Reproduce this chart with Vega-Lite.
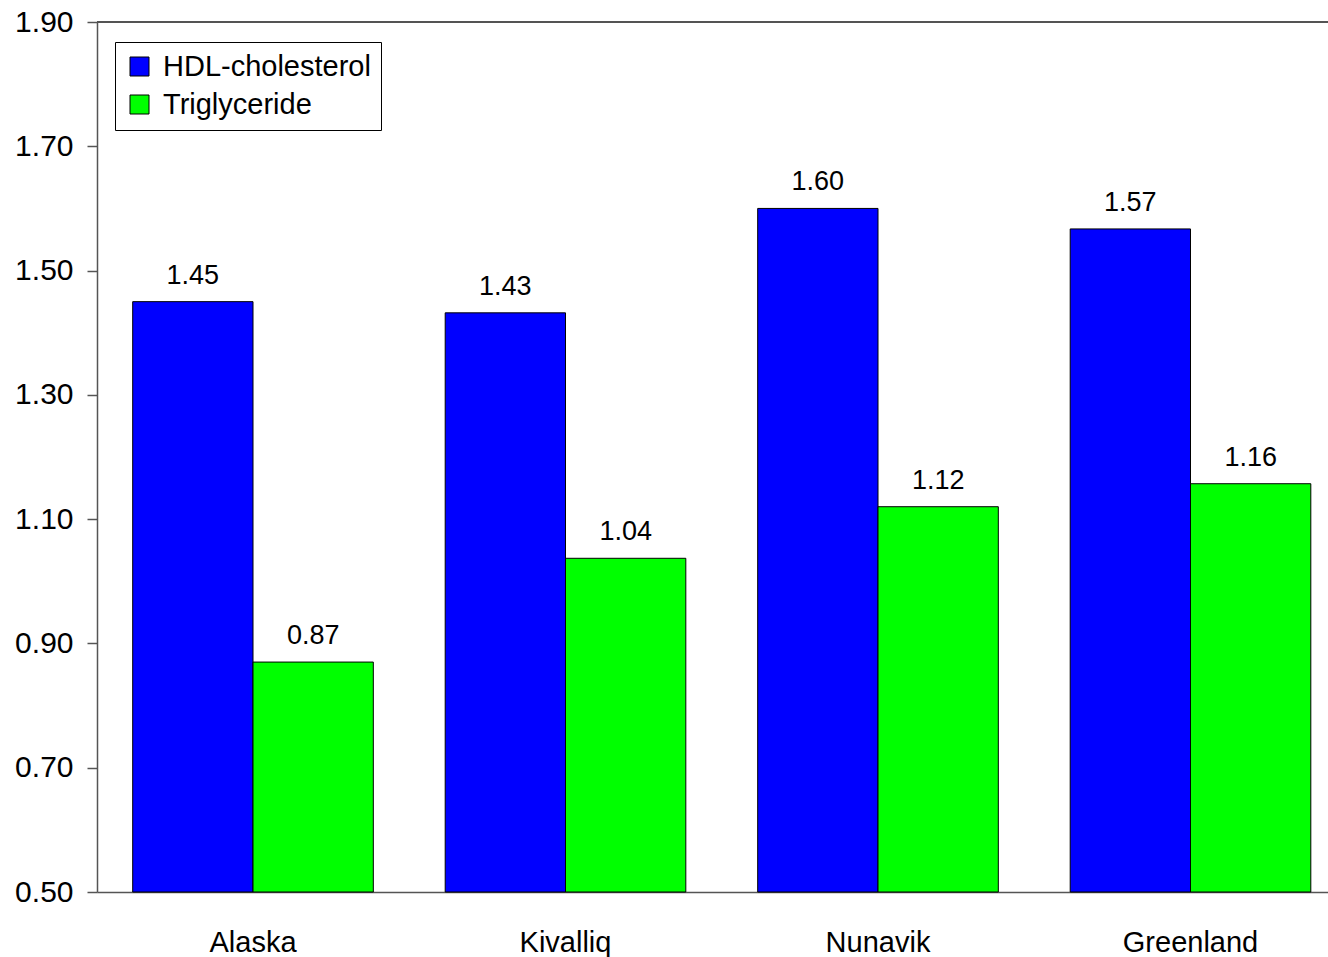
{
  "$schema": "https://vega.github.io/schema/vega-lite/v6.json",
  "width": 1231,
  "height": 870,
  "autosize": {"type": "none"},
  "padding": {"left": 97, "top": 22, "right": 0, "bottom": 65},
  "background": "white",
  "config": {
    "view": {"stroke": null},
    "font": "Liberation Sans",
    "axis": {"labelFont": "Liberation Sans", "labelColor": "black", "grid": false}
  },
  "data": {
    "values": [
      {"region": "Alaska", "measure": "HDL-cholesterol", "value": 1.45},
      {"region": "Alaska", "measure": "Triglyceride", "value": 0.87},
      {"region": "Kivalliq", "measure": "HDL-cholesterol", "value": 1.432},
      {"region": "Kivalliq", "measure": "Triglyceride", "value": 1.037},
      {"region": "Nunavik", "measure": "HDL-cholesterol", "value": 1.60},
      {"region": "Nunavik", "measure": "Triglyceride", "value": 1.12},
      {"region": "Greenland", "measure": "HDL-cholesterol", "value": 1.567},
      {"region": "Greenland", "measure": "Triglyceride", "value": 1.157}
    ]
  },
  "layer": [
    {
      "mark": {"type": "bar", "stroke": "black", "strokeWidth": 1},
      "encoding": {
        "x": {
          "field": "region",
          "type": "nominal",
          "sort": ["Alaska", "Kivalliq", "Nunavik", "Greenland"],
          "scale": {"paddingInner": 0.23, "paddingOuter": 0.0846, "align": 0.675},
          "axis": {
            "title": null,
            "labelAngle": 0,
            "labelFontSize": 29,
            "labelPadding": 36,
            "ticks": false,
            "domainColor": "#555",
            "domainWidth": 1.5
          }
        },
        "xOffset": {
          "field": "measure",
          "type": "nominal",
          "scale": {"paddingInner": 0, "paddingOuter": 0}
        },
        "y": {
          "field": "value",
          "type": "quantitative",
          "scale": {"domain": [0.5, 1.9], "nice": false, "zero": false},
          "axis": {
            "title": null,
            "values": [0.5, 0.7, 0.9, 1.1, 1.3, 1.5, 1.7, 1.9],
            "format": ".2f",
            "labelFontSize": 30,
            "labelPadding": 14,
            "tickSize": 10,
            "tickColor": "#555",
            "tickWidth": 1.5,
            "domainColor": "#555",
            "domainWidth": 1.5
          }
        },
        "y2": {"datum": 0.5},
        "color": {
          "field": "measure",
          "type": "nominal",
          "scale": {"domain": ["HDL-cholesterol", "Triglyceride"], "range": ["#0000FF", "#00FF00"]},
          "legend": {
            "title": null,
            "orient": "none",
            "legendX": 18,
            "legendY": 20,
            "symbolType": "square",
            "symbolSize": 361,
            "symbolStrokeColor": "black",
            "symbolStrokeWidth": 1,
            "symbolOpacity": 1,
            "labelFont": "Liberation Sans",
            "labelFontSize": 29,
            "labelColor": "black",
            "labelLimit": 0,
            "labelOffset": 9,
            "rowPadding": 8,
            "padding": 10,
            "strokeColor": "black",
            "fillColor": "white"
          }
        }
      }
    },
    {
      "mark": {"type": "text", "baseline": "alphabetic", "dy": -18, "fontSize": 27, "font": "Liberation Sans", "color": "black"},
      "encoding": {
        "x": {"field": "region", "type": "nominal", "sort": ["Alaska", "Kivalliq", "Nunavik", "Greenland"]},
        "xOffset": {"field": "measure", "type": "nominal"},
        "y": {"field": "value", "type": "quantitative"},
        "text": {"field": "value", "type": "quantitative", "format": ".2f"}
      }
    },
    {
      "mark": {"type": "rule", "color": "#555", "strokeWidth": 1.5},
      "encoding": {"y": {"datum": 1.9}}
    }
  ]
}
